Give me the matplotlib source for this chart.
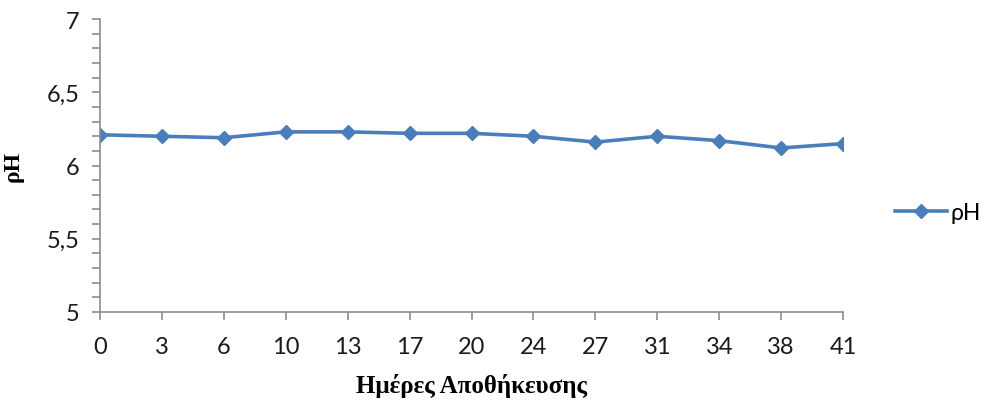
import matplotlib
matplotlib.use("Agg")
import matplotlib.pyplot as plt
from matplotlib.ticker import MultipleLocator, FuncFormatter

# Storage days and measured pH
days = ["0", "3", "6", "10", "13", "17", "20", "24", "27", "31", "34", "38", "41"]
ph_values = [6.21, 6.20, 6.19, 6.23, 6.23, 6.22, 6.22, 6.20, 6.16, 6.20, 6.17, 6.12, 6.15]

line_color = "#4A7EBB"
axis_color = "#8C8C8C"
tick_font = "Lato"

fig = plt.figure(figsize=(9.86, 4.02), dpi=100)
ax = fig.add_axes([0.1014, 0.2214, 0.7536, 0.7286])

x = list(range(len(days)))
ax.plot(x, ph_values, color=line_color, lw=2.6, marker="D", ms=7.5,
        markerfacecolor=line_color, markeredgecolor=line_color, label="ρH")

ax.set_xlim(0, len(days) - 1)
ax.set_ylim(5, 7)
ax.set_xticks(x)
ax.set_xticklabels(days)
ax.yaxis.set_major_locator(MultipleLocator(0.5))
ax.yaxis.set_minor_locator(MultipleLocator(0.1))
ax.yaxis.set_major_formatter(FuncFormatter(lambda v, p: (f"{v:g}").replace(".", ",")))

for side in ("top", "right"):
    ax.spines[side].set_visible(False)
for side in ("left", "bottom"):
    ax.spines[side].set_color(axis_color)
    ax.spines[side].set_linewidth(1.2)

ax.tick_params(axis="both", which="both", color=axis_color, width=1.2, labelsize=17,
               labelcolor="#1a1a1a")
ax.tick_params(axis="y", which="major", length=6, pad=9)
ax.tick_params(axis="y", which="minor", length=6)
ax.tick_params(axis="x", which="major", length=6, pad=11)
for lbl in ax.get_xticklabels() + ax.get_yticklabels():
    lbl.set_fontfamily(tick_font)

ax.set_xlabel("Ημέρες Αποθήκευσης", fontfamily="Liberation Serif", fontweight="bold",
              fontsize=18, labelpad=12)
ax.set_ylabel("ρH", fontfamily="Liberation Serif", fontweight="bold", fontsize=17,
              labelpad=16)

fig.legend(loc="center left", bbox_to_anchor=(0.898, 0.47), frameon=False,
           prop={"family": tick_font, "size": 16.5}, handlelength=2.3, handletextpad=0.15,
           borderaxespad=0.0)

fig.savefig("out.png", dpi=100)
